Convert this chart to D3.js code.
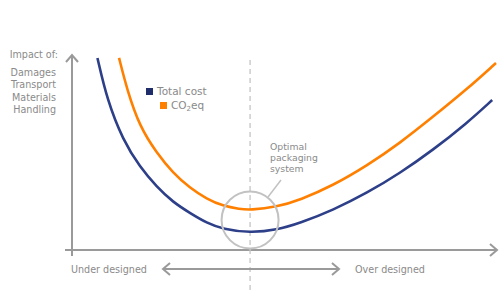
<!DOCTYPE html>
<html>
<head>
<meta charset="utf-8">
<title>Optimal packaging</title>
<script src="https://cdn.jsdelivr.net/npm/d3@7"></script>
<style>
  body { margin: 0; background: #fff; }
  text { font-family: "DejaVu Sans", sans-serif; fill: #8a8a8a; }
  .curve { fill: none; stroke-width: 2.6px; }
</style>
</head>
<body>
<svg width="500" height="300"></svg>
<script>
// design level (0 = under designed, 100 = over designed) vs impact
var designLevel = [6, 8.3, 12, 16, 20, 23.8, 27.8, 31.8, 35.6, 42, 48.3, 53.8, 61.6, 69.6, 77.4, 85.1, 93.2, 99.1];
var totalCost   = [99, 77.3, 56.7, 42.8, 32.5, 24.7, 19.1, 13.9, 10.8, 8.8, 10.3, 13.9, 20.6, 29.4, 39.7, 51.5, 65.5, 77.3];

var co2Level = [11.1, 13, 16, 20, 23.8, 27.8, 31.8, 35.6, 39.6, 42, 48.3, 53.8, 61.6, 69.6, 77.4, 85.1, 93.2, 100];
var co2eq    = [99, 82.5, 63.4, 50, 39.7, 32, 26.3, 22.7, 21.1, 20.6, 22.2, 25.8, 33.3, 43.5, 55.2, 68.6, 83, 96.4];

var impactLabels = ["Damages", "Transport", "Materials", "Handling"];
var calloutLines = ["Optimal", "packaging", "system"];
var optimum = {x: 42, y: 15.5};

var svg = d3.select("svg");
var x = d3.scaleLinear().domain([0, 100]).range([72, 496]);
var y = d3.scaleLinear().domain([0, 100]).range([250, 56]);

var grey = "#9a9a9a";

// axes with arrow heads
svg.append("line").attr("x1", x(0)).attr("x2", x(0)).attr("y1", 256).attr("y2", 55)
  .attr("stroke", grey).attr("stroke-width", 2);
svg.append("path").attr("d", "M" + (x(0) - 6) + ",62L" + x(0) + ",55L" + (x(0) + 6) + ",62")
  .attr("fill", "none").attr("stroke", grey).attr("stroke-width", 2);
svg.append("line").attr("x1", 65).attr("x2", 497).attr("y1", y(0)).attr("y2", y(0))
  .attr("stroke", grey).attr("stroke-width", 2);
svg.append("path").attr("d", "M490," + (y(0) - 6) + "L497," + y(0) + "L490," + (y(0) + 6))
  .attr("fill", "none").attr("stroke", grey).attr("stroke-width", 2);

// dashed optimum line
svg.append("line").attr("x1", x(optimum.x)).attr("x2", x(optimum.x)).attr("y1", 60).attr("y2", 292)
  .attr("stroke", "#c4c4c4").attr("stroke-width", 1.3).attr("stroke-dasharray", "5,4");

var line = d3.line()
  .curve(d3.curveBasis)
  .x(function(d) { return x(d[0]); })
  .y(function(d) { return y(d[1]); });

svg.append("path").attr("class", "curve")
  .attr("d", line(d3.zip(co2Level, co2eq))).attr("stroke", "#ff8000");
svg.append("path").attr("class", "curve")
  .attr("d", line(d3.zip(designLevel, totalCost))).attr("stroke", "#2d3f88");

// optimum circle and callout
svg.append("circle").attr("cx", x(optimum.x)).attr("cy", y(optimum.y)).attr("r", 28.5)
  .attr("fill", "none").attr("stroke", "#c2c2c2").attr("stroke-width", 2);
svg.append("line").attr("x1", 268).attr("y1", 197).attr("x2", 281).attr("y2", 180)
  .attr("stroke", "#c2c2c2").attr("stroke-width", 1.5);
svg.selectAll(".callout").data(calloutLines).enter().append("text")
  .attr("x", 270).attr("y", function(d, i) { return 150 + i * 10.9; })
  .attr("font-size", 9.3)
  .text(function(d) { return d; });

// legend
svg.append("rect").attr("x", 146).attr("y", 88).attr("width", 7).attr("height", 7).attr("fill", "#1f2d6b");
svg.append("text").attr("x", 157).attr("y", 95).attr("font-size", 10.5).text("Total cost");
svg.append("rect").attr("x", 160).attr("y", 102).attr("width", 7).attr("height", 7).attr("fill", "#ff8000");
var co = svg.append("text").attr("x", 171).attr("y", 109).attr("font-size", 10.5);
co.append("tspan").text("CO");
co.append("tspan").attr("font-size", 7).attr("dy", 2).text("2");
co.append("tspan").attr("dy", -2).text("eq");

// y label
svg.append("text").attr("x", 58).attr("y", 57.5).attr("text-anchor", "end").attr("font-size", 9.6)
  .text("Impact of:");
svg.selectAll(".imp").data(impactLabels).enter().append("text")
  .attr("x", 56).attr("y", function(d, i) { return 75.7 + i * 12.4; })
  .attr("text-anchor", "end").attr("font-size", 9.6)
  .text(function(d) { return d; });

// x labels and double arrow
svg.append("text").attr("x", 71).attr("y", 272.7).attr("font-size", 9.6).text("Under designed");
svg.append("text").attr("x", 355).attr("y", 272.7).attr("font-size", 9.6).text("Over designed");
svg.append("line").attr("x1", 163).attr("x2", 339).attr("y1", 269).attr("y2", 269)
  .attr("stroke", grey).attr("stroke-width", 2);
svg.append("path").attr("d", "M170,263L163,269L170,275M332,263L339,269L332,275")
  .attr("fill", "none").attr("stroke", grey).attr("stroke-width", 2);
</script>
</body>
</html>
